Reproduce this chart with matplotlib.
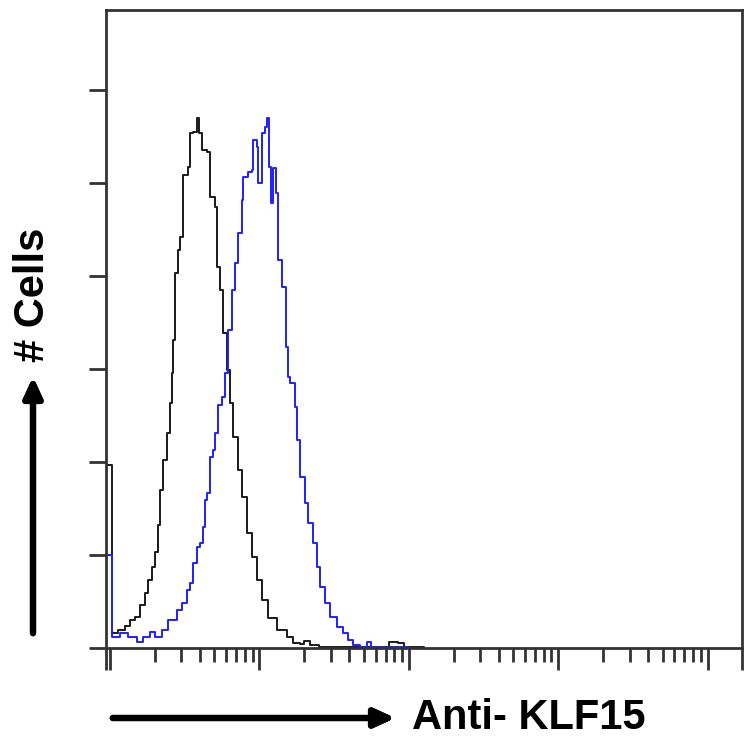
import numpy as np
import matplotlib.pyplot as plt

# histogramme: position log10 du canal et nombre de cellules
ctrl_log = [-0.025, -0.025, 0.013, 0.054, 0.10, 0.134, 0.167, 0.20, 0.234, 0.254, 0.28,
            0.30, 0.32, 0.334, 0.355, 0.38, 0.40, 0.415, 0.42, 0.435, 0.455, 0.468,
            0.488, 0.52, 0.535, 0.555, 0.58, 0.595, 0.615, 0.65, 0.67, 0.70, 0.716,
            0.736, 0.756, 0.78, 0.80, 0.82, 0.856, 0.883, 0.916, 0.95, 0.983, 1.017,
            1.057, 1.117, 1.184, 1.224, 1.27, 1.30, 1.34, 1.40, 1.87, 1.93, 1.97, 2.1]
ctrl_cnt = [0, 39.3, 3.2, 3.9, 4.7, 6.0, 6.7, 9.2, 11.8, 14.6, 17.4,
            20.6, 26.4, 34.0, 40.4, 46.2, 52.7, 59.1, 66.2, 80.6, 85.6, 88.4,
            101.7, 103.4, 110.7, 110.9, 114.0, 110.7, 107.1, 106.6, 97.0, 94.8, 81.9,
            77.0, 67.7, 59.8, 52.7, 45.4, 38.3, 32.5, 24.7, 19.6, 14.6, 10.3,
            6.5, 3.9, 2.4, 1.1, 0.9, 1.5, 0.6, 0.2, 1.3, 1.1, 0.2, 0]

klf_log = [-0.025, -0.025, 0.013, 0.067, 0.12, 0.18, 0.22, 0.27, 0.30, 0.35, 0.39,
           0.45, 0.48, 0.515, 0.535, 0.555, 0.58, 0.60, 0.62, 0.635, 0.65, 0.67,
           0.69, 0.70, 0.72, 0.75, 0.77, 0.79, 0.816, 0.836, 0.856, 0.883, 0.89,
           0.923, 0.95, 0.957, 0.983, 0.99, 1.017, 1.037, 1.05, 1.064, 1.077, 1.09,
           1.11, 1.124, 1.15, 1.177, 1.19, 1.204, 1.237, 1.25, 1.27, 1.304, 1.324,
           1.358, 1.385, 1.405, 1.438, 1.47, 1.52, 1.56, 1.59, 1.625, 1.67, 1.72,
           1.75, 2.0]
klf_cnt = [0, 20.0, 2.4, 3.2, 2.4, 1.3, 2.4, 3.4, 2.4, 3.9, 6.0,
           8.2, 9.7, 12.5, 14.0, 18.3, 21.7, 22.6, 26.0, 31.8, 33.3, 41.1,
           42.6, 46.2, 52.2, 54.0, 59.1, 68.4, 77.0, 82.8, 89.2, 96.3, 101.3,
           102.3, 102.8, 109.2, 107.7, 100.0, 110.7, 112.0, 114.0, 103.4, 95.7, 103.2,
           97.8, 83.4, 77.6, 64.7, 58.3, 57.0, 51.8, 44.7, 36.8, 31.2, 26.9,
           22.6, 17.4, 13.1, 9.7, 6.7, 4.5, 3.2, 1.7, 0.6, 0.2, 1.3,
           0.2, 0]

fig = plt.figure(figsize=(7.48, 7.40), dpi=100)
ax = fig.add_axes([106 / 748, 1 - 648 / 740, 636 / 748, 638 / 740])

ax.step(10 ** np.array(ctrl_log), ctrl_cnt, where='post', color='#1a1a1a', lw=1.4)
ax.step(10 ** np.array(klf_log), klf_cnt, where='post', color='#1f1fff', lw=1.4)

xmin, xmax = 10 ** -0.027, 10 ** 4.23
ax.set_xscale('log')
ax.set_xlim(xmin, xmax)
ax.set_ylim(0, 137.2)

ax.set_xticks([xmin, 1, 10, 100, 1000, 10000, xmax])
minors = [m * 10 ** d for d in range(4) for m in range(2, 10)]
ax.set_xticks(minors, minor=True)
ax.set_yticks(range(0, 121, 20))
ax.set_xticklabels([])
ax.set_xticklabels([], minor=True)
ax.set_yticklabels([])
ax.tick_params(axis='x', which='major', length=16, width=2, direction='out', color='#333333')
ax.tick_params(axis='x', which='minor', length=10, width=2, direction='out', color='#333333')
ax.tick_params(axis='y', length=12, width=2, direction='out', color='#333333')
for s in ax.spines.values():
    s.set_linewidth(2)
    s.set_color('#333333')

font = dict(family='Liberation Sans', weight='bold', size=30, color='black')
fig.text(412 / 748, 1 - 718 / 740, 'Anti- KLF15', ha='left', va='center', **font)
fig.text(33 / 748, 1 - 295 / 740, '# Cells', ha='center', va='center', rotation=90, **font)

arrow = dict(arrowstyle='-|>,head_length=1.2,head_width=0.55', lw=4.5, color='black')
fig.add_artist(plt.annotate('', xy=(398 / 748, 1 - 718 / 740), xytext=(110 / 748, 1 - 718 / 740),
                            xycoords='figure fraction', arrowprops=arrow))
fig.add_artist(plt.annotate('', xy=(33 / 748, 1 - 374 / 740), xytext=(33 / 748, 1 - 636 / 740),
                            xycoords='figure fraction', arrowprops=arrow))

fig.savefig('out.png', dpi=100)
